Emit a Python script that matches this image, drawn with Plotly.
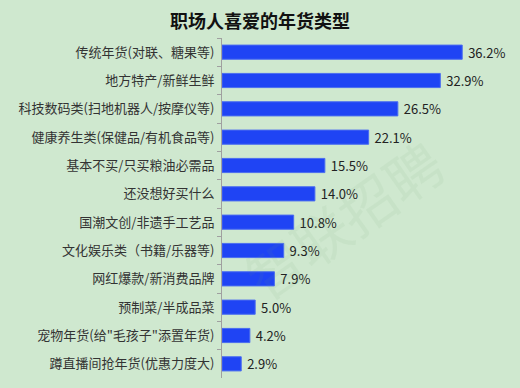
import plotly.graph_objects as go

categories = ["传统年货(对联、糖果等)", "地方特产/新鲜生鲜", "科技数码类(扫地机器人/按摩仪等)",
              "健康养生类(保健品/有机食品等)", "基本不买/只买粮油必需品", "还没想好买什么",
              "国潮文创/非遗手工艺品", "文化娱乐类（书籍/乐器等)", "网红爆款/新消费品牌",
              "预制菜/半成品菜", "宠物年货(给\"毛孩子\"添置年货)", "蹲直播间抢年货(优惠力度大)"]
values = [36.2, 32.9, 26.5, 22.1, 15.5, 14.0, 10.8, 9.3, 7.9, 5.0, 4.2, 2.9]

FONT = "Noto Sans CJK SC"
BG = "#cfe8cf"

fig = go.Figure(go.Bar(
    y=categories, x=values, orientation="h", width=0.5,
    marker=dict(color="#1f44f4", line=dict(color="#4a6cf0", width=1)),
    text=values, texttemplate=" %{x:.1f}%", textposition="outside", constraintext="none",
    textfont=dict(family=FONT, size=13, color="#222222"), cliponaxis=False,
    hoverinfo="skip",
))

fig.update_layout(
    width=520, height=388, paper_bgcolor=BG, plot_bgcolor=BG,
    margin=dict(l=222, r=10, t=38, b=10),
    title=dict(text="<b>职场人喜爱的年货类型</b>", x=0.5, xanchor="center", y=0.944, yanchor="middle",
               font=dict(family=FONT, size=18, color="#111111")),
    showlegend=False,
    xaxis=dict(range=[0, 43.4], visible=False, fixedrange=True),
    yaxis=dict(autorange="reversed", showline=True, linecolor="#a0a0a0", linewidth=1,
               ticks="outside", ticklen=4, tickcolor="#a0a0a0", tickson="boundaries",
               tickfont=dict(family=FONT, size=13, color="#333333"), automargin=False,
               ticklabelstandoff=4, fixedrange=True),
    annotations=[dict(text="智联招聘", x=0.42, y=0.47, xref="paper", yref="paper", showarrow=False,
                      textangle=-35, font=dict(family=FONT, size=56, color="rgba(120,160,120,0.08)"))],
)

fig.write_html("out.html", config={"displayModeBar": False, "staticPlot": True},
               post_script="document.body.style.margin='0';document.body.style.background='%s';" % BG)
